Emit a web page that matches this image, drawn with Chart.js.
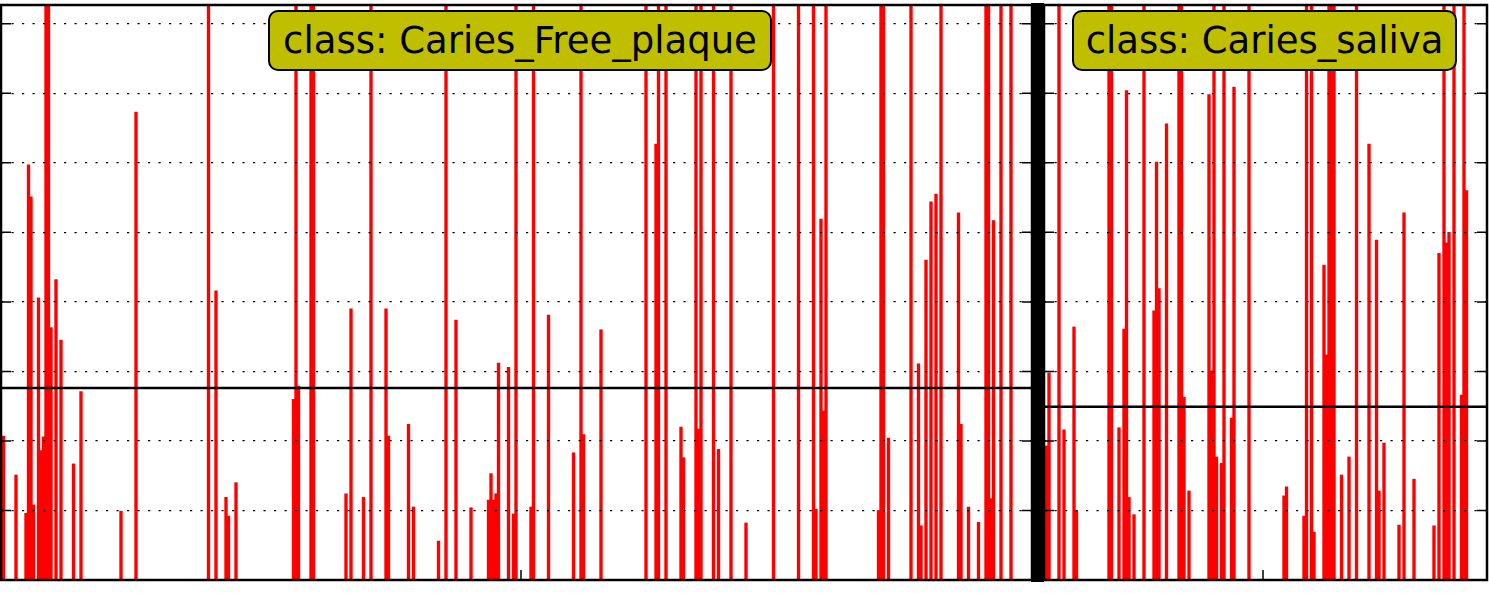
<!DOCTYPE html>
<html>
<head>
<meta charset="utf-8">
<script src="https://cdn.jsdelivr.net/npm/chart.js@4"></script>
<style>
  body { margin: 0; background: #fff; }
  #wrap { position: relative; width: 1489px; height: 593px; overflow: hidden; }
  canvas { position: absolute; top: 0; }
  .sep { position: absolute; left: 1031px; top: 3px; width: 13px; height: 579px; background: #000; }
  .lbl {
    position: absolute; top: 10px; height: 61px; box-sizing: border-box;
    background: #bfbf00; border: 2.5px solid #000; border-radius: 10px;
    font-family: "DejaVu Sans", sans-serif; font-size: 37px; color: #000;
    display: flex; align-items: center; justify-content: center; white-space: nowrap;
  }
</style>
</head>
<body>
<div id="wrap">
  <canvas id="leftChart" width="1040" height="593" style="left:0"></canvas>
  <canvas id="rightChart" width="453" height="593" style="left:1036px"></canvas>
  <div class="sep"></div>
  <div class="lbl" id="leftLbl" style="left:268px; width:504px;"></div>
  <div class="lbl" id="rightLbl" style="left:1072px; width:385px;"></div>
</div>
<script>
// panel titles
const classLabels = ['class: Caries_Free_plaque', 'class: Caries_saliva'];

// --- left panel (Caries_Free_plaque) --- sample index / value, 9 = off the top
const leftPos = [1, 6, 10, 11, 12, 13, 15, 16, 17, 18, 19, 20, 22, 24, 29, 32, 48, 54,
  83, 86, 90, 91, 94, 117, 118, 119, 124, 125, 138, 140, 145, 148, 154, 155, 163, 165,
  175, 178, 182, 188, 195, 196, 197, 198, 199, 203, 205, 206, 212, 213, 219, 229, 232,
  233, 240, 258, 262, 263, 266, 272, 273, 278, 279, 280, 285, 287, 292, 298, 309, 319,
  325, 326, 328, 329, 330, 351, 352, 353, 355, 364, 367, 368, 370, 372, 374, 376, 383,
  384, 387, 391, 394, 395, 396, 397, 400, 404];
const leftVals = [2.07, 1.51, 0.96, 5.97, 5.51, 1.08, 4.06, 1.86, 2.06, 9, 9, 3.63, 4.32, 3.45, 1.67, 2.71, 0.99, 6.73,
  9, 4.16, 1.19, 0.92, 1.40, 2.60, 9, 2.79, 9, 9, 1.24, 3.90, 1.19, 9, 3.90, 2.07, 2.24, 1.05,
  0.56, 9, 3.74, 1.04, 1.15, 1.53, 1.15, 1.24, 3.12, 3.06, 0.95, 9, 1.05, 9, 3.81, 1.83, 9,
  2.09, 3.60, 9, 6.27, 9, 9, 2.20, 1.76, 9, 2.17, 9, 9, 1.88, 9, 0.82, 9, 9,
  9, 1.02, 5.19, 2.43, 9, 1.00, 9, 9, 2.04, 9, 3.11, 0.78, 4.60, 5.44, 5.55, 9, 5.28,
  2.24, 1.05, 0.83, 9, 9, 1.17, 5.17, 9, 9];
const leftMean = 2.76;
const leftXTicks = [208];

// --- right panel (Caries_saliva) ---
const rightPos = [1, 2, 6, 8, 12, 13, 26, 27, 30, 32, 33, 34, 36, 40, 44, 45, 46, 49,
  54, 55, 56, 58, 66, 67, 68, 69, 71, 72, 75, 76, 82, 96, 97, 104, 105, 107, 108, 112,
  113, 114, 115, 116, 119, 122, 125, 130, 133, 134, 136, 142, 144, 148, 156, 158, 160,
  161, 162, 164, 167, 168, 169];
const rightVals = [1.93, 2.98, 9, 2.16, 3.64, 1.00, 9, 9, 2.19, 3.61, 7.04, 1.19, 0.94, 9, 3.87, 6.01, 4.19, 6.56,
  9, 9, 2.63, 1.28, 6.98, 3.01, 9, 1.77, 1.68, 9, 2.33, 7.09, 9, 1.21, 1.34, 0.92, 9, 9, 0.69, 4.53,
  3.24, 9, 9, 9, 1.51, 1.77, 9, 6.27, 4.89, 1.28, 1.97, 0.79, 5.28, 1.45, 0.78, 4.70, 9,
  4.85, 5.00, 9, 2.66, 9, 5.60];
const rightMean = 2.49;
const rightXTicks = [87.6];

const yMax = 8.27;

document.getElementById('leftLbl').textContent = classLabels[0];
document.getElementById('rightLbl').textContent = classLabels[1];

// spines + inward ticks like the matplotlib axes
const framePlugin = {
  id: 'frame',
  afterDraw(chart, args, opts) {
    const { ctx, chartArea: a, scales } = chart;
    ctx.save();
    ctx.strokeStyle = '#000';
    ctx.lineWidth = 1.5;
    scales.y.ticks.forEach(t => {
      if (t.value <= 0) return;
      const y = scales.y.getPixelForValue(t.value);
      ctx.beginPath();
      ctx.moveTo(a.left, y); ctx.lineTo(a.left + 10, y);
      ctx.moveTo(a.right, y); ctx.lineTo(a.right - 10, y);
      ctx.stroke();
    });
    (opts.xTicks || []).forEach(v => {
      const x = scales.x.getPixelForValue(v);
      ctx.beginPath();
      ctx.moveTo(x, a.bottom); ctx.lineTo(x, a.bottom - 10);
      ctx.stroke();
    });
    ctx.lineWidth = 2.5;
    ctx.strokeRect(a.left, a.top, a.right - a.left, a.bottom - a.top);
    ctx.restore();
  }
};

function makePanel(id, pos, vals, mean, xMax, xTicks, padding) {
  const ctx = document.getElementById(id).getContext('2d');
  return new Chart(ctx, {
    type: 'bar',
    data: {
      datasets: [{
        type: 'line',
        data: [{ x: 0, y: mean }, { x: xMax, y: mean }],
        borderColor: '#000',
        borderWidth: 2.5,
        pointRadius: 0,
        pointHoverRadius: 0,
        order: 0
      }, {
        type: 'bar',
        data: pos.map((p, i) => ({ x: p, y: vals[i] })),
        backgroundColor: '#ff0000',
        barThickness: 2.7,
        order: 1
      }]
    },
    options: {
      responsive: false,
      animation: false,
      layout: { padding: padding, autoPadding: false },
      plugins: { legend: { display: false }, tooltip: { enabled: false }, frame: { xTicks: xTicks } },
      scales: {
        x: {
          type: 'linear', min: 0, max: xMax, offset: false,
          ticks: { display: false },
          grid: { display: false, drawTicks: false },
          border: { display: false }
        },
        y: {
          min: 0, max: yMax,
          ticks: { display: false, stepSize: 1, includeBounds: false },
          grid: { color: '#000', lineWidth: 1.3, drawTicks: false, z: 1 },
          border: { display: false, dash: [2.2, 8.3] }
        }
      }
    },
    plugins: [framePlugin]
  });
}

makePanel('leftChart', leftPos, leftVals, leftMean, 412.4, leftXTicks, { left: 1, top: 5, right: 8, bottom: 13 });
makePanel('rightChart', rightPos, rightVals, rightMean, 177.2, rightXTicks, { left: 8, top: 5, right: 2, bottom: 13 });
</script>
</body>
</html>
